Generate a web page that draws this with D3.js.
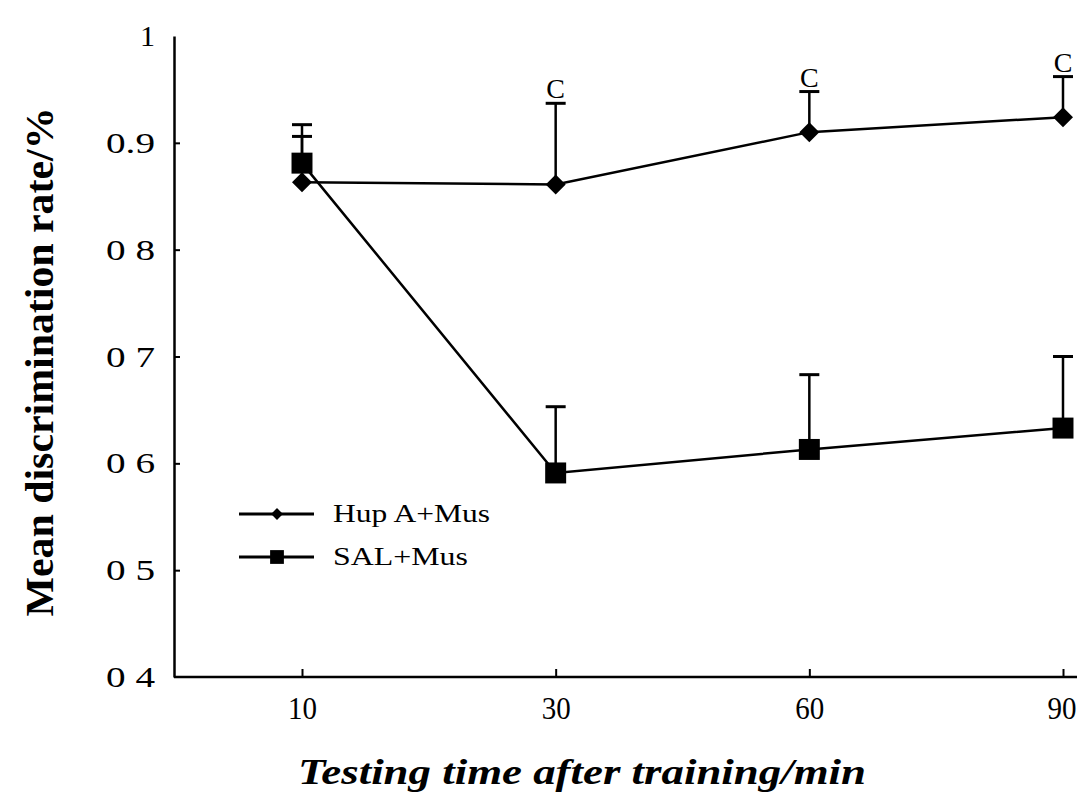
<!DOCTYPE html>
<meta charset="utf-8">
<head>
  <title>Mean discrimination rate</title>
</head>

<style>
body {
  margin: 0;
  background: #fff;
  font-family: "Liberation Serif", "Times New Roman", serif;
}
</style>

<body>
  <div id="content"></div>

  <script src="https://cdnjs.cloudflare.com/ajax/libs/d3/7.8.5/d3.min.js"></script>

  <script>
// categories (testing time, min)
var times = ['10', '30', '60', '90'];

// Hup A + Mus group
var hupMean = [0.863, 0.861, 0.910, 0.924];
var hupErr  = [0.917, 0.937, 0.948, 0.962];

// SAL + Mus group
var salMean = [0.881, 0.591, 0.613, 0.633];
var salErr  = [0.906, 0.653, 0.683, 0.700];

// significance marks above the Hup A bars
var sigMarks = ['', 'C', 'C', 'C'];

// y tick values and labels as printed
var yTicks = [0.4, 0.5, 0.6, 0.7, 0.8, 0.9, 1.0];
var yTickLabels = ['0 4', '0 5', '0 6', '0 7', '0 8', '0.9', '1'];

var width = 1077, height = 792;
var serif = '"Liberation Serif", "Times New Roman", serif';

var svg = d3.select('#content').append('svg')
  .attr('width', width)
  .attr('height', height);

var x = d3.scalePoint()
  .domain(times)
  .range([302, 1063]);

var y = d3.scaleLinear()
  .domain([0.4, 1.0])
  .range([677, 36]);

var axisX = 174;

// y axis, ticks pointing inward
var yAxis = svg.append('g')
  .attr('transform', 'translate(' + axisX + ',0)')
  .call(d3.axisLeft(y)
    .tickValues(yTicks)
    .tickSizeInner(-6)
    .tickSizeOuter(0)
    .tickPadding(19)
    .tickFormat(function(d, i) { return yTickLabels[i]; }));

yAxis.select('.domain').attr('stroke-width', 2.5);
yAxis.selectAll('.tick line').attr('stroke-width', 2);
yAxis.selectAll('.tick text')
  .attr('font-family', serif)
  .attr('font-size', 30)
  .attr('fill', '#000')
  .attr('textLength', function(d) { return d === 1.0 ? null : 49; })
  .attr('lengthAdjust', 'spacingAndGlyphs');
yAxis.selectAll('.tick').filter(function(d) { return d === 0.4 || d === 1.0; }).select('line').remove();

// x axis, ticks pointing up
var xAxis = svg.append('g')
  .attr('transform', 'translate(0,' + y(0.4) + ')')
  .call(d3.axisBottom(x)
    .tickSizeInner(-8)
    .tickSizeOuter(0)
    .tickPadding(20));

xAxis.select('.domain').remove();
xAxis.selectAll('.tick line').attr('stroke-width', 2);
xAxis.selectAll('.tick text')
  .attr('font-family', serif)
  .attr('font-size', 31)
  .attr('fill', '#000')
  .attr('textLength', 29)
  .attr('lengthAdjust', 'spacingAndGlyphs');
// last label sits against the right edge
xAxis.selectAll('.tick text').filter(function(d) { return d === '90'; })
  .attr('text-anchor', 'end')
  .attr('x', width - x('90') - 1);

svg.append('line')
  .attr('x1', axisX).attr('x2', width)
  .attr('y1', y(0.4)).attr('y2', y(0.4))
  .attr('stroke', '#000')
  .attr('stroke-width', 2.5);

// axis titles
svg.append('text')
  .attr('transform', 'translate(53,' + 362 + ') rotate(-90)')
  .attr('text-anchor', 'middle')
  .attr('font-family', serif)
  .attr('font-weight', 'bold')
  .attr('font-size', 40)
  .attr('textLength', 509)
  .attr('lengthAdjust', 'spacingAndGlyphs')
  .text('Mean discrimination rate/%');

svg.append('text')
  .attr('x', 582)
  .attr('y', 784)
  .attr('text-anchor', 'middle')
  .attr('font-family', serif)
  .attr('font-weight', 'bold')
  .attr('font-style', 'italic')
  .attr('font-size', 36)
  .attr('textLength', 568)
  .attr('lengthAdjust', 'spacingAndGlyphs')
  .text('Testing time after training/min');

var line = d3.line()
  .x(function(d, i) { return x(times[i]); })
  .y(function(d) { return y(d); });

function errorBars(means, tops) {
  var g = svg.append('g');
  g.selectAll('line.stem')
    .data(means)
    .enter().append('line')
    .attr('class', 'stem')
    .attr('x1', function(d, i) { return x(times[i]); })
    .attr('x2', function(d, i) { return x(times[i]); })
    .attr('y1', function(d) { return y(d); })
    .attr('y2', function(d, i) { return y(tops[i]); })
    .attr('stroke', '#000')
    .attr('stroke-width', 2.5);
  g.selectAll('line.cap')
    .data(tops)
    .enter().append('line')
    .attr('class', 'cap')
    .attr('x1', function(d, i) { return x(times[i]) - 10; })
    .attr('x2', function(d, i) { return x(times[i]) + 10; })
    .attr('y1', function(d) { return y(d); })
    .attr('y2', function(d) { return y(d); })
    .attr('stroke', '#000')
    .attr('stroke-width', 3);
}

errorBars(salMean, salErr);
errorBars(hupMean, hupErr);

// series lines
svg.append('path')
  .datum(salMean)
  .attr('d', line)
  .attr('fill', 'none')
  .attr('stroke', '#000')
  .attr('stroke-width', 2.5);

svg.append('path')
  .datum(hupMean)
  .attr('d', line)
  .attr('fill', 'none')
  .attr('stroke', '#000')
  .attr('stroke-width', 2.5);

var diamond = d3.symbol().type(d3.symbolSquare).size(200);
var square = d3.symbol().type(d3.symbolSquare).size(440);

svg.selectAll('path.hup')
  .data(hupMean)
  .enter().append('path')
  .attr('class', 'hup')
  .attr('d', diamond)
  .attr('transform', function(d, i) { return 'translate(' + x(times[i]) + ',' + y(d) + ') rotate(45)'; })
  .attr('fill', '#000');

svg.selectAll('path.sal')
  .data(salMean)
  .enter().append('path')
  .attr('class', 'sal')
  .attr('d', square)
  .attr('transform', function(d, i) { return 'translate(' + x(times[i]) + ',' + y(d) + ')'; })
  .attr('fill', '#000');

// significance letters
svg.selectAll('text.sig')
  .data(hupErr)
  .enter().append('text')
  .attr('class', 'sig')
  .attr('x', function(d, i) { return x(times[i]); })
  .attr('y', function(d) { return y(d) - 5; })
  .attr('text-anchor', 'middle')
  .attr('font-family', serif)
  .attr('font-size', 28)
  .text(function(d, i) { return sigMarks[i]; });

// legend
var legendNames = ['Hup A+Mus', 'SAL+Mus'];
var legend = svg.append('g');
var legendY = [514, 557];

legendNames.forEach(function(name, i) {
  legend.append('line')
    .attr('x1', 239).attr('x2', 314)
    .attr('y1', legendY[i]).attr('y2', legendY[i])
    .attr('stroke', '#000')
    .attr('stroke-width', 3);
  legend.append('path')
    .attr('d', i === 0 ? d3.symbol().type(d3.symbolSquare).size(70)() : d3.symbol().type(d3.symbolSquare).size(190)())
    .attr('transform', 'translate(277,' + legendY[i] + ')' + (i === 0 ? ' rotate(45)' : ''))
    .attr('fill', '#000');
  legend.append('text')
    .attr('x', 333)
    .attr('y', legendY[i] + 8)
    .attr('font-family', serif)
    .attr('font-size', 26)
    .attr('textLength', i === 0 ? 157 : 135)
    .attr('lengthAdjust', 'spacingAndGlyphs')
    .text(name);
});
  </script>
</body>
</html>
